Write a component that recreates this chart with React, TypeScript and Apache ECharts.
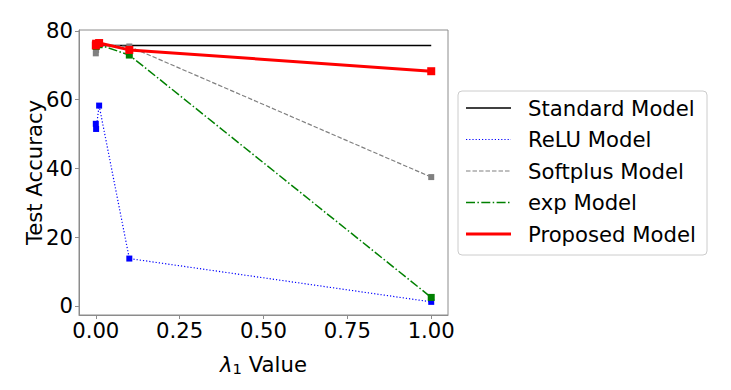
import React, { useEffect, useRef } from "react";
import * as echarts from "echarts";

const lambdaValues = [0.0001, 0.001, 0.01, 0.1, 1];
const standardAcc = [75.8, 75.8, 75.8, 75.8, 75.8];
const reluAcc = [53.0, 51.5, 58.3, 13.8, 1.2];
const softplusAcc = [73.5, 74.5, 76.0, 75.5, 37.5];
const expAcc = [76.0, 75.5, 76.0, 73.0, 2.5];
const proposedAcc = [75.8, 76.3, 76.5, 74.5, 68.3];
const seriesNames = ["Standard Model", "ReLU Model", "Softplus Model", "exp Model", "Proposed Model"];
const xTicks = [0, 0.25, 0.5, 0.75, 1];
const yTicks = [0, 20, 40, 60, 80];

const FONT = "DejaVu Sans";
const FS = 21.2;

const pairs = (ys: number[]) => lambdaValues.map((x, i) => [x, ys[i]]);

export default function App() {
  const ref = useRef<HTMLDivElement>(null);
  useEffect(() => {
    document.body.style.margin = "0";
    const chart = echarts.init(ref.current!, null, { renderer: "svg" });
    const styles = [
      { color: "#000000", width: 1.5, type: "solid" as any, symbol: "none", size: 0 },
      { color: "#0000ff", width: 1.2, type: [1.2, 2] as any, symbol: "rect", size: 6 },
      { color: "#808080", width: 1.2, type: [4.5, 2] as any, symbol: "rect", size: 6 },
      { color: "#008000", width: 1.5, type: [9, 2.4, 1.5, 2.4] as any, symbol: "rect", size: 7 },
      { color: "#ff0000", width: 3, type: "solid" as any, symbol: "rect", size: 8 },
    ];
    const data = [standardAcc, reluAcc, softplusAcc, expAcc, proposedAcc];
    const legendTop = 91;
    const legendRows = [108, 139.5, 171, 202.5, 234];
    const graphic: any[] = [
      {
        type: "rect",
        shape: { x: 458, y: legendTop, width: 249, height: 164, r: 4 },
        style: { fill: "rgba(255,255,255,0.8)", stroke: "#cccccc", lineWidth: 1 },
        z: 10,
      },
    ];
    styles.forEach((s, i) => {
      graphic.push({
        type: "line",
        shape: { x1: 466, y1: legendRows[i], x2: 511, y2: legendRows[i] },
        style: { stroke: s.color, lineWidth: s.width, lineDash: typeof s.type === "string" ? null : s.type },
        z: 11,
      });
      graphic.push({
        type: "text",
        x: 528,
        y: legendRows[i],
        style: { text: seriesNames[i], fontFamily: FONT, fontSize: FS, fill: "#000", verticalAlign: "middle", align: "left" },
        z: 11,
      });
    });
    chart.setOption({
      animation: false,
      textStyle: { fontFamily: FONT },
      grid: {
        left: 79, right: 283, top: 30, bottom: 75, containLabel: false,
        show: true, borderColor: "#8c8c8c", borderWidth: 1, backgroundColor: "transparent",
      },
      xAxis: {
        type: "value",
        min: -0.05,
        max: 1.05,
        splitLine: { show: false },
        axisLine: { show: true, onZero: false, lineStyle: { color: "#8c8c8c", width: 1 } },
        axisTick: { show: true, customValues: xTicks, length: 4, lineStyle: { color: "#8c8c8c" } },
        axisLabel: {
          customValues: xTicks,
          formatter: (v: number) => v.toFixed(2),
          fontFamily: FONT,
          fontSize: FS,
          color: "#000",
          margin: 5,
        },
        name: "{l|λ}{s|1} Value",
        nameLocation: "middle",
        nameGap: 38,
        nameMoveOverlap: false,
        nameTextStyle: {
          fontFamily: FONT,
          fontSize: FS,
          color: "#000",
          rich: {
            l: { fontFamily: FONT, fontSize: FS, fontStyle: "italic", color: "#000" },
            s: { fontFamily: FONT, fontSize: 14.8, color: "#000", padding: [8, 0, 0, 0] },
          },
        },
      },
      yAxis: {
        type: "value",
        min: -2.62,
        max: 80.29,
        splitLine: { show: false },
        axisLine: { show: true, onZero: false, lineStyle: { color: "#8c8c8c", width: 1 } },
        axisTick: { show: true, customValues: yTicks, length: 4, lineStyle: { color: "#8c8c8c" } },
        axisLabel: { customValues: yTicks, fontFamily: FONT, fontSize: FS, color: "#000", margin: 6 },
        name: "Test Accuracy",
        nameLocation: "middle",
        nameGap: 34,
        nameMoveOverlap: false,
        nameTextStyle: { fontFamily: FONT, fontSize: FS, color: "#000" },
      },
      series: styles.map((s, i) => ({
        type: "line",
        name: seriesNames[i],
        data: pairs(data[i]),
        symbol: s.symbol,
        symbolSize: s.size,
        showSymbol: s.symbol !== "none",
        lineStyle: { color: s.color, width: s.width, type: s.type },
        itemStyle: { color: s.color },
        clip: false,
        z: 2 + i,
      })),
      graphic,
    });
    return () => chart.dispose();
  }, []);
  return <div ref={ref} style={{ width: 731, height: 390 }} />;
}
